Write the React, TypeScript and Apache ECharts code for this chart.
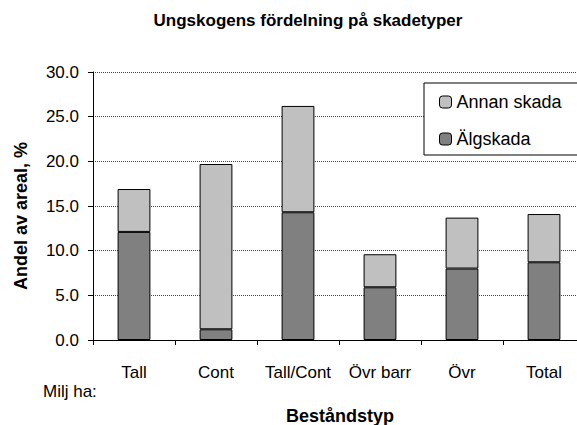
import React, { useEffect, useRef } from "react";
import * as echarts from "echarts";

const categories = ["Tall", "Cont", "Tall/Cont", "Övr barr", "Övr", "Total"];
const algskada = [12.1, 1.2, 14.3, 5.9, 8.0, 8.7];
const annanSkada = [4.8, 18.5, 11.9, 3.7, 5.7, 5.4];
const yTicks = { min: 0, max: 30, interval: 5 };

const FONT = "Arial, Liberation Sans, sans-serif";

export default function App() {
  const ref = useRef<HTMLDivElement>(null);
  useEffect(() => {
    if (!ref.current) return;
    const chart = echarts.init(ref.current, null, { renderer: "svg" });
    chart.setOption({
      animation: false,
      backgroundColor: "#ffffff",
      textStyle: { fontFamily: FONT },
      grid: { left: 93, top: 72, right: 0, bottom: 85, containLabel: false },
      legend: {
        data: ["Annan skada", "Älgskada"],
        orient: "vertical",
        left: 424,
        top: 83,
        padding: [10, 16, 7, 15],
        itemGap: 19,
        itemWidth: 12,
        itemHeight: 12,
        borderColor: "#000",
        borderWidth: 1,
        backgroundColor: "#fff",
        textStyle: { fontSize: 18, color: "#000", fontFamily: FONT },
        itemStyle: { borderColor: "#000", borderWidth: 1 },
      },
      xAxis: {
        type: "category",
        data: categories,
        boundaryGap: true,
        axisLine: { show: true, lineStyle: { color: "#000", width: 1 } },
        axisTick: { show: true, length: 5, inside: false, lineStyle: { color: "#000" }, alignWithLabel: false },
        axisLabel: { fontSize: 17, color: "#000", margin: 24, fontFamily: FONT, interval: 0 },
        splitLine: { show: false },
      },
      yAxis: {
        type: "value",
        min: yTicks.min,
        max: yTicks.max,
        interval: yTicks.interval,
        axisLine: { show: true, lineStyle: { color: "#000", width: 1 } },
        axisTick: { show: true, length: 5, lineStyle: { color: "#000" } },
        axisLabel: {
          fontSize: 17,
          color: "#000",
          margin: 14,
          fontFamily: FONT,
          formatter: (v: number) => v.toFixed(1),
        },
        splitLine: { show: true, lineStyle: { color: "#444", type: "dotted", width: 1 } },
      },
      series: [
        {
          name: "Älgskada",
          type: "bar",
          stack: "total",
          data: algskada,
          barWidth: "40%",
          itemStyle: { color: "#808080", borderColor: "#000", borderWidth: 1 },
        },
        {
          name: "Annan skada",
          type: "bar",
          stack: "total",
          data: annanSkada,
          barWidth: "40%",
          itemStyle: { color: "#c0c0c0", borderColor: "#000", borderWidth: 1 },
        },
      ],
      graphic: [
        {
          type: "text",
          x: 308,
          y: 20,
          style: {
            text: "Ungskogens fördelning på skadetyper",
            font: `bold 17px ${FONT}`,
            fill: "#000",
            align: "center",
            verticalAlign: "middle",
          },
        },
        {
          type: "text",
          x: 21,
          y: 216,
          rotation: Math.PI / 2,
          style: {
            text: "Andel av areal, %",
            font: `bold 18px ${FONT}`,
            fill: "#000",
            align: "center",
            verticalAlign: "middle",
          },
        },
        {
          type: "text",
          x: 43,
          y: 391,
          style: {
            text: "Milj ha:",
            font: `17px ${FONT}`,
            fill: "#000",
            align: "left",
            verticalAlign: "middle",
          },
        },
        {
          type: "text",
          x: 340,
          y: 416,
          style: {
            text: "Beståndstyp",
            font: `bold 18px ${FONT}`,
            fill: "#000",
            align: "center",
            verticalAlign: "middle",
          },
        },
      ],
    });
    return () => chart.dispose();
  }, []);
  return (
    <div
      ref={ref}
      style={{ position: "fixed", left: 0, top: 0, width: 585, height: 425, background: "#fff" }}
    />
  );
}
